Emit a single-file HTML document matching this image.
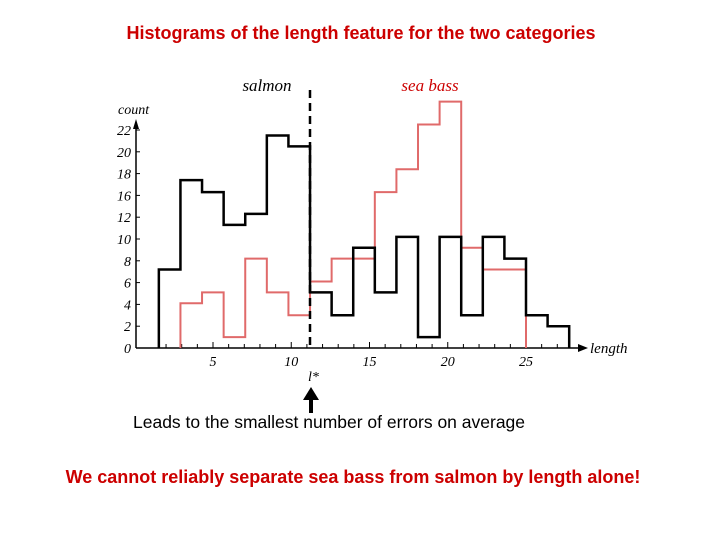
<!DOCTYPE html>
<html><head><meta charset="utf-8"><style>
body{margin:0;background:#fff;}
svg{display:block;}
</style></head><body>
<svg width="720" height="540" xmlns="http://www.w3.org/2000/svg">
<text x="361" y="39" text-anchor="middle" font-family="Liberation Sans, sans-serif" font-weight="bold" font-size="18" fill="#cc0000">Histograms of the length feature for the two categories</text>
<g id="axes"></g>
<g id="marks"></g>
<text x="267" y="91" text-anchor="middle" font-family="Liberation Serif, serif" font-style="italic" font-size="17" fill="#000">salmon</text>
<text x="430" y="91" text-anchor="middle" font-family="Liberation Serif, serif" font-style="italic" font-size="17" fill="#cc0000">sea bass</text>
<text x="118" y="114" font-family="Liberation Serif, serif" font-style="italic" font-size="14">count</text>
<text x="590" y="353" font-family="Liberation Serif, serif" font-style="italic" font-size="15">length</text>
<line x1="310" y1="90" x2="310" y2="348" stroke="#000" stroke-width="2.5" stroke-dasharray="8,5"/>
<text x="308" y="381" font-family="Liberation Serif, serif" font-style="italic" font-size="14">l*</text>
<line x1="311" y1="413" x2="311" y2="398" stroke="#000" stroke-width="4"/>
<polygon points="303,400 319,400 311,387" fill="#000"/>
<text x="133" y="428" font-family="Liberation Sans, sans-serif" font-size="17.5">Leads to the smallest number of errors on average</text>
<text x="353" y="483" text-anchor="middle" font-family="Liberation Sans, sans-serif" font-weight="bold" font-size="18" fill="#cc0000">We cannot reliably separate sea bass from salmon by length alone!</text>
</svg>
<script>
const yTickLabels=["0","2","4","6","8","10","12","16","18","20","22"];
const xTickLabels=[5,10,15,20,25];
const binStart=1.54, binWidth=1.38;
const salmon=[7.2,15.4,14.3,11.3,12.3,19.5,18.5,5.1,3.0,9.2,5.1,10.2,1.0,10.2,3.0,10.2,8.2,3.0,2.0];
const seaBassStartBin=1;
const seaBass=[4.1,5.1,1.0,8.2,5.1,3.0,6.1,8.2,8.2,14.3,16.4,20.5,22.6,9.2,7.2,7.2];
const NS="http://www.w3.org/2000/svg";
function xs(v){return 213+(v-5)*15.65;}
function ys(v){return 348-v*10.9;}
const axes=document.getElementById('axes'), marks=document.getElementById('marks');
function mk(tag,attrs,parent){const e=document.createElementNS(NS,tag);for(const k in attrs)e.setAttribute(k,attrs[k]);parent.appendChild(e);return e;}
let l=mk('line',{x1:136,y1:348,x2:580,y2:348,stroke:'#000','stroke-width':1.5},axes);


let a=mk('polygon',{points:'588,348 578,344 578,352',fill:'#000'},axes);


l=mk('line',{x1:136,y1:348,x2:136,y2:126,stroke:'#000','stroke-width':1.5},axes);


a=mk('polygon',{points:'136,119 133,129 139,129',fill:'#000'},axes);


yTickLabels.forEach((t,i)=>{const y=ys(i*2);
 const tk=mk('line',{x1:136,y1:y,x2:140,y2:y,stroke:'#000'},axes);
 
 
 const tx=mk('text',{x:131,y:y+5,'text-anchor':'end','font-family':'Liberation Serif, serif','font-style':'italic','font-size':14},axes);
 tx.textContent=t;
 
 });
for(let v=2;v<=27;v++){const x=xs(v);
 const tk=mk('line',{x1:x,y1:348,x2:x,y2:v%5?344:342,stroke:'#000'},axes);
 
 }
xTickLabels.forEach(v=>{const tx=mk('text',{x:xs(v),y:366,'text-anchor':'middle','font-family':'Liberation Serif, serif','font-style':'italic','font-size':14},axes);
 tx.textContent=v;
 
 });
function stepPath(vals,start){let x0=xs(binStart+start*binWidth);let d='M'+x0+','+ys(0);
 vals.forEach((v,i)=>{const xa=xs(binStart+(start+i)*binWidth),xb=xs(binStart+(start+i+1)*binWidth);d+=' L'+xa+','+ys(v)+' L'+xb+','+ys(v);});
 d+=' L'+xs(binStart+(start+vals.length)*binWidth)+','+ys(0);return d;}
let p=mk('path',{d:stepPath(seaBass,seaBassStartBin),fill:'none',stroke:'#e06a6a','stroke-width':2},marks);


p=mk('path',{d:stepPath(salmon,0),fill:'none',stroke:'#000','stroke-width':2.5},marks);


</script>
</body></html>
